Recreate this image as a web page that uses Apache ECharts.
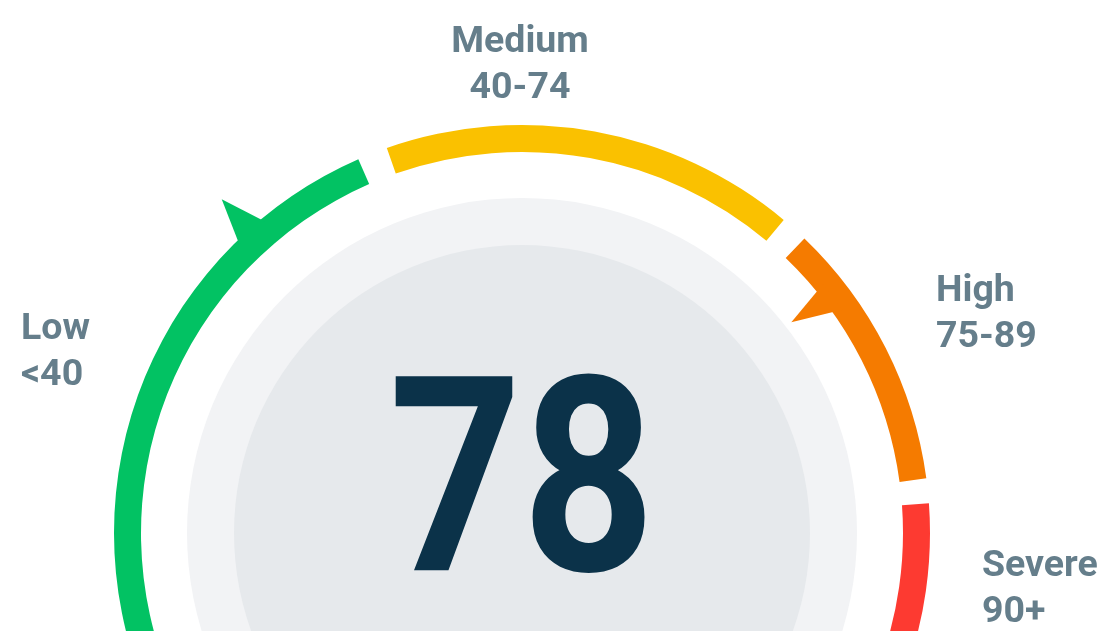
<!DOCTYPE html>
<html>
<head>
<meta charset="utf-8">
<script src="https://cdn.jsdelivr.net/npm/echarts@6/dist/echarts.min.js"></script>
<style>
  html, body { margin: 0; padding: 0; background: #fff; }
  #chart { width: 1116px; height: 631px; }
</style>
</head>
<body>
<div id="chart"></div>
<script>
// risk bands (integer ranges, edges sit on the half points)
const bandNames = ['Low', 'Medium', 'High', 'Severe'];
const bandRanges = ['<40', '40-74', '75-89', '90+'];
const bandMin = [0, 39.5, 74.5, 89.5];
const bandMax = [39.5, 74.5, 89.5, 100];
const bandColors = ['#02c263', '#fac100', '#f57b00', '#fd3a31'];

const score = 78;      // current score, in the High band
const benchmark = 33;  // outer marker, in the Low band

// visible arc of each band, in degrees
const bandStart = [225, 109.35, 46.2, 4.17];
const bandEnd = [113.65, 50.1, 7.7, -45];

const cx = 522, cy = 533;
const labelColor = '#657e8b';
const labelFont = 'bold 37.5px Roboto';

const chart = echarts.init(document.getElementById('chart'));

const series = bandNames.map((name, i) => {
    return {
        type: 'gauge',
        name: name,
        center: [cx, cy],
        radius: 408,
        startAngle: bandStart[i],
        endAngle: bandEnd[i],
        min: bandMin[i],
        max: bandMax[i],
        axisLine: { lineStyle: { width: 27, color: [[1, bandColors[i]]] } },
        splitLine: { show: false },
        axisTick: { show: false },
        axisLabel: { show: false },
        pointer: { show: false },
        anchor: { show: false },
        title: { show: false },
        detail: { show: false },
        data: []
    };
});

// outward marker on the Low band
series[0].data = [{ value: benchmark }];
series[0].pointer = {
    show: true,
    icon: 'path://M0,10 L5,0 L10,10 Z',
    width: 34,
    length: 45,
    offsetCenter: [0, -404],
    itemStyle: { color: bandColors[0] }
};

// inward marker on the High band
series[2].data = [{ value: score }];
series[2].pointer = {
    show: true,
    icon: 'path://M0,0 L32,0 L11,48 Z',
    width: 32,
    length: 48,
    offsetCenter: [0, -342],
    itemStyle: { color: bandColors[2] }
};

const labelPos = [
    { x: 21, y: 352.5, align: 'left' },
    { x: 520, y: 65.5, align: 'center' },
    { x: 936, y: 314.5, align: 'left' },
    { x: 982, y: 589.5, align: 'left' }
];

const labels = bandNames.map((name, i) => {
    return {
        type: 'text',
        x: labelPos[i].x,
        y: labelPos[i].y,
        z: 10,
        style: {
            text: name + '\n' + bandRanges[i],
            font: labelFont,
            fill: labelColor,
            lineHeight: 46,
            align: labelPos[i].align,
            textAlign: labelPos[i].align,
            verticalAlign: 'middle',
            textVerticalAlign: 'middle'
        }
    };
});

// big score number in the middle, a bit narrower than plain Roboto Bold
const scoreText = {
    type: 'text',
    x: cx,
    y: 502,
    scaleX: 0.85,
    z: 10,
    style: {
        text: String(score),
        font: 'bold 273px Roboto',
        fill: '#0b3249',
        align: 'center',
        textAlign: 'center',
        verticalAlign: 'middle',
        textVerticalAlign: 'middle'
    }
};

const option = {
    animation: false,
    backgroundColor: '#fff',
    graphic: {
        elements: [
            { type: 'circle', z: 0, shape: { cx: cx, cy: cy, r: 335 }, style: { fill: '#f2f3f5' } },
            { type: 'circle', z: 0, shape: { cx: cx, cy: cy, r: 288 }, style: { fill: '#e6e9ec' } },
            scoreText
        ].concat(labels)
    },
    series: series
};

chart.setOption(option);
</script>
</body>
</html>
